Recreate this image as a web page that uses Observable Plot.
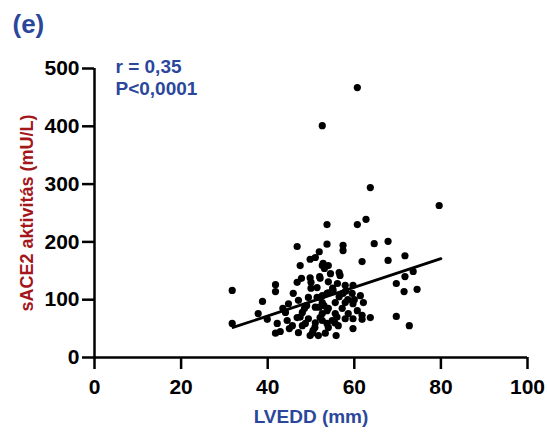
<!DOCTYPE html>
<html><head><meta charset="utf-8">
<script src="https://cdn.jsdelivr.net/npm/d3@7"></script>
<script src="https://cdn.jsdelivr.net/npm/@observablehq/plot@0.6"></script>
<style>body{margin:0;background:#fff}</style>
</head><body><div id="chart"></div>
<script>
const panelLabel = "(e)";
const xLabel = "LVEDD (mm)";
const yLabel = "sACE2 aktivitás (mU/L)";
const statLines = ["r = 0,35", "P<0,0001"];
const xTicks = [0, 20, 40, 60, 80, 100];
const yTicks = [0, 100, 200, 300, 400, 500];
const lvedd = [60.7,52.6,63.7,79.6,53.7,60.7,62.7,64.6,67.8,53.7,57.4,57.4,61.8,67.8,71.7,73.6,71.7,69.7,71.5,74.5,63.7,69.7,72.7,61.8,59.7,55.8,
 31.8,31.8,38.8,37.8,39.9,41.8,41.8,46.8,47.5,46.8,47.8,49.8,49.8,51.0,51.9,52.8,53.1,45.9,44.8,44.1,42.2,41.8,42.9,44.5,45.7,46.8,47.1,48.7,49.8,50.5,
 51.4,51.4,51.9,52.1,53.7,53.7,53.7,51.7,52.6,54.0,56.5,56.7,52.1,54.0,56.1,57.9,59.7,52.6,54.0,55.1,57.4,59.5,61.4,49.4,47.1,52.6,55.6,57.9,59.7,62.1,
 51.0,54.0,57.2,60.7,48.0,52.6,55.6,58.6,61.8,49.4,52.6,54.9,57.9,59.7,48.0,50.9,54.0,56.3,50.3,53.3,
 50.0,55.0,58.5,49.0,53.0,56.0,43.5,47.5,51.0,55.5,58.0,60.0,45.0,48.5,52.0,56.5,50.0,54.5];
const sace2 = [467,401,294,263,230,230,239,197,201,196,194,185,166,168,176,149,140,128,114,118,69,71,55,66,50,38,
 116,59,97,76,66,126,114,192,159,130,137,138,170,173,183,163,154,111,93,78,59,42,45,64,55,69,43,59,38,47,
 121,104,87,69,111,81,59,38,159,159,147,142,137,131,128,125,125,107,112,116,111,111,107,104,99,95,95,95,93,95,
 87,85,85,81,78,76,76,76,73,67,64,64,67,67,55,52,52,55,42,42,
 120,120,100,90,90,70,85,70,60,60,115,100,50,85,140,105,130,145];
const regX = [32, 80];
const regY = [52, 171];

const points = lvedd.map((x, i) => ({x, y: sace2[i]}));
const reg = regX.map((x, i) => ({x, y: regY[i]}));
const blue = "#2b479c";
const red = "#a3161b";

const chart = Plot.plot({
  width: 547, height: 435,
  marginLeft: 94, marginRight: 20, marginTop: 68, marginBottom: 78,
  x: {domain: [0, 100]},
  y: {domain: [0, 500]},
  style: {fontFamily: "'Liberation Sans', Arial, sans-serif", fontWeight: "bold", fontSize: "20px", color: "#000", background: "#fff"},
  marks: [
    Plot.axisX({ticks: xTicks, tickSize: 12, tickPadding: 10, label: null, strokeWidth: 2.5, fontSize: 21, fontWeight: "bold"}),
    Plot.axisY({ticks: yTicks, tickSize: 12, tickPadding: 3, label: null, strokeWidth: 2.5, fontSize: 21, fontWeight: "bold"}),
    Plot.ruleY([0], {stroke: "#000", strokeWidth: 2.5}),
    Plot.ruleX([0], {stroke: "#000", strokeWidth: 2.5}),
    Plot.dot(points, {x: "x", y: "y", r: 3.6, fill: "#000", stroke: "none"}),
    Plot.line(reg, {x: "x", y: "y", stroke: "#000", strokeWidth: 2.8}),
    Plot.text([xLabel], {frameAnchor: "bottom", dy: 65, fill: blue, fontSize: 19, fontWeight: "bold"}),
    Plot.text([yLabel], {frameAnchor: "left", dx: -67, textAnchor: "middle", rotate: -90, fill: red, fontSize: 18, fontWeight: "bold"}),
    Plot.text([statLines.join("\n")], {frameAnchor: "top-left", dx: 21, dy: -11, lineAnchor: "top", textAnchor: "start", lineHeight: 1.16, fill: blue, fontSize: 19, fontWeight: "bold"}),
    Plot.text([panelLabel], {frameAnchor: "top-left", dx: -82, dy: -54, lineAnchor: "top", textAnchor: "start", fill: blue, fontSize: 26, fontWeight: "bold"})
  ]
});
document.getElementById("chart").appendChild(chart);
</script>
</body></html>
